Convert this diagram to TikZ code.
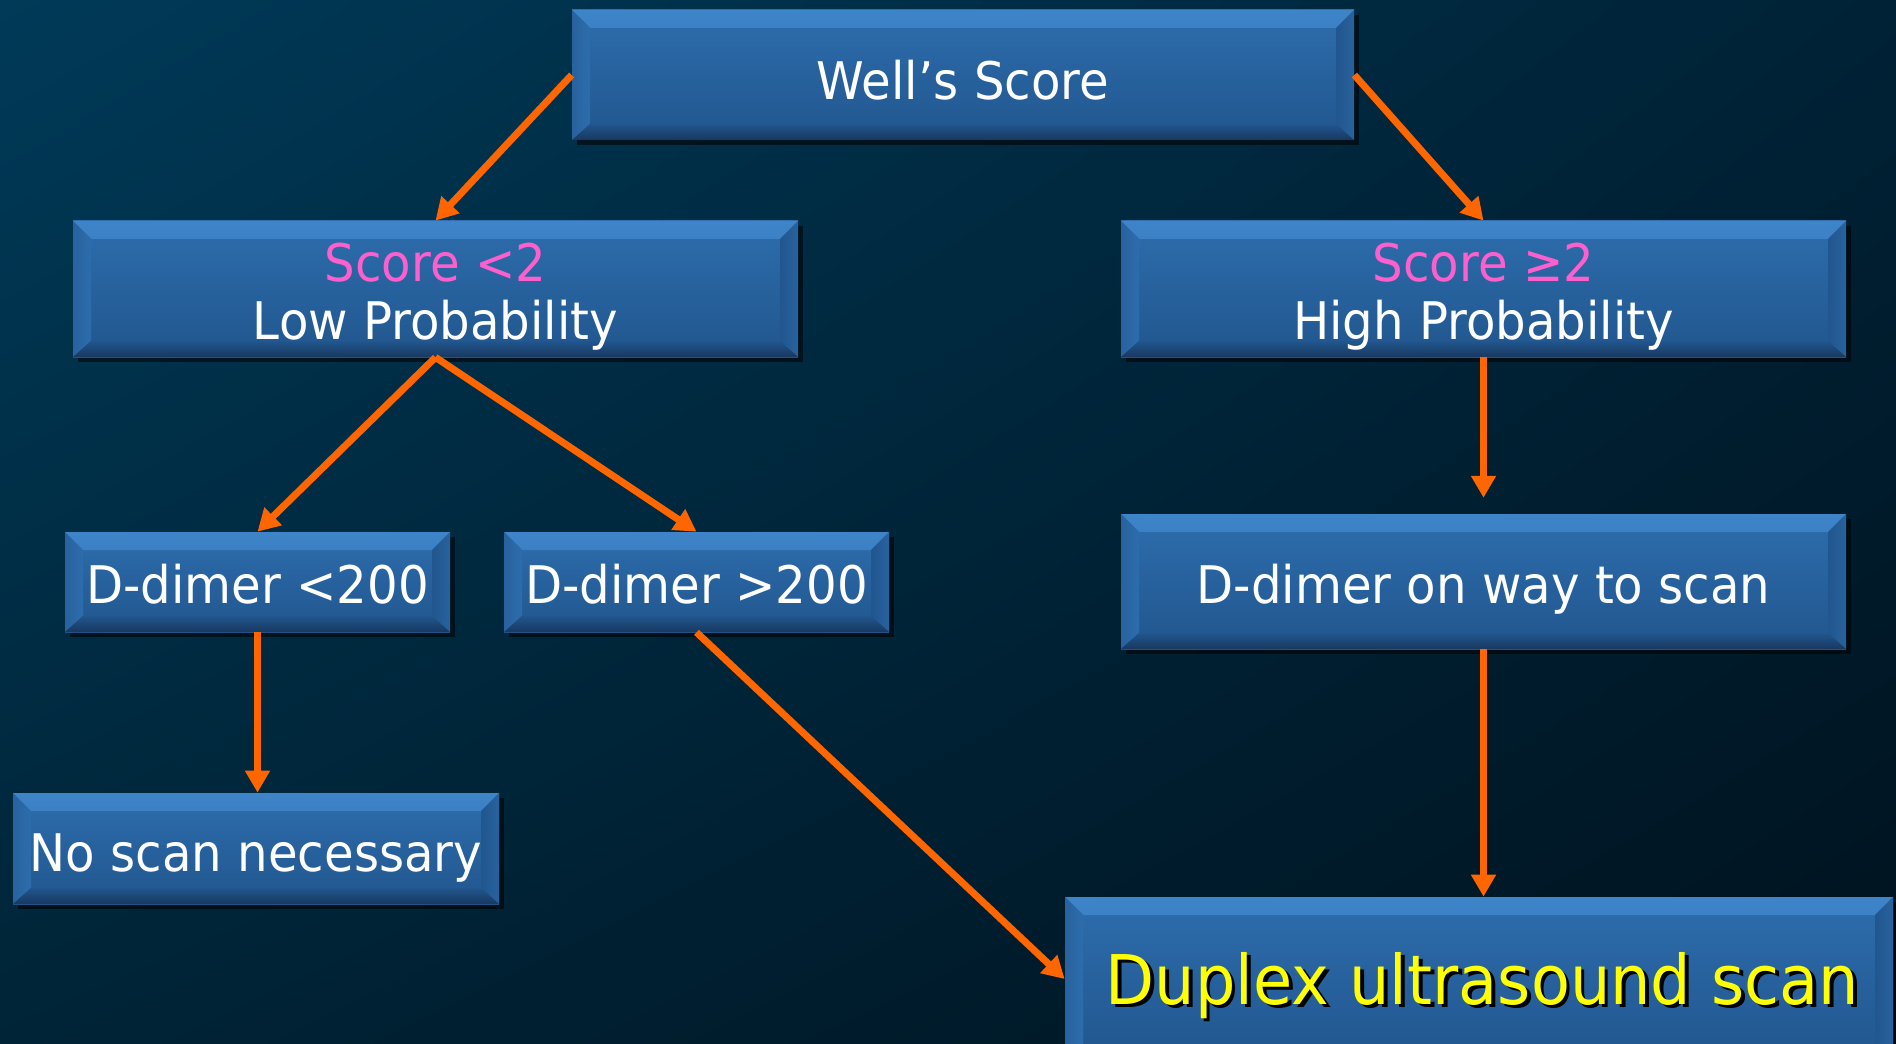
\documentclass[tikz,border=0pt]{standalone}
\usepackage{fontspec}
\setmainfont{DejaVu Sans}[FakeStretch=0.93]
\usetikzlibrary{arrows.meta,shadows,shadings}

\newdimen\pxu
\pxu=0.02cm

\definecolor{bgUL}{RGB}{0,58,88}
\definecolor{bgUR}{RGB}{0,34,54}
\definecolor{bgLL}{RGB}{0,36,55}
\definecolor{bgLR}{RGB}{0,18,30}
\definecolor{faceTop}{RGB}{45,109,173}
\definecolor{faceBot}{RGB}{33,86,142}
\definecolor{bevHi}{RGB}{108,178,248}
\definecolor{bevTop}{RGB}{62,132,200}
\definecolor{bevSide}{RGB}{40,98,158}
\definecolor{bevBot}{RGB}{24,56,96}
\definecolor{arrowOrange}{RGB}{255,102,0}
\definecolor{scorePink}{RGB}{255,95,205}
\definecolor{dupYellow}{RGB}{255,255,0}

\tikzset{
  bevelbox/.style={
    rectangle, inner sep=0pt,
    top color=faceTop, bottom color=faceBot,
    drop shadow={shadow xshift=3pt, shadow yshift=-3pt, opacity=0.55, fill=black},
    path picture={
      % top bevel
      \shade[top color=bevTop, middle color=bevHi, bottom color=faceTop]
        (path picture bounding box.north west) -- (path picture bounding box.north east)
        -- ([xshift=-18\pxu,yshift=-18\pxu]path picture bounding box.north east)
        -- ([xshift=18\pxu,yshift=-18\pxu]path picture bounding box.north west) -- cycle;
      % left bevel
      \shade[left color=bevSide, right color=faceTop]
        (path picture bounding box.north west)
        -- ([xshift=18\pxu,yshift=-18\pxu]path picture bounding box.north west)
        -- ([xshift=18\pxu,yshift=16\pxu]path picture bounding box.south west)
        -- (path picture bounding box.south west) -- cycle;
      % right bevel
      \shade[right color=bevSide, left color=faceBot]
        (path picture bounding box.north east)
        -- ([xshift=-18\pxu,yshift=-18\pxu]path picture bounding box.north east)
        -- ([xshift=-18\pxu,yshift=16\pxu]path picture bounding box.south east)
        -- (path picture bounding box.south east) -- cycle;
      % bottom bevel
      \shade[top color=faceBot, bottom color=bevBot]
        (path picture bounding box.south west) -- (path picture bounding box.south east)
        -- ([xshift=-18\pxu,yshift=16\pxu]path picture bounding box.south east)
        -- ([xshift=18\pxu,yshift=16\pxu]path picture bounding box.south west) -- cycle;
    }
  },
  boxtext/.style={
    inner sep=0pt, align=center, text=white,
    font=\fontsize{29.5}{33}\selectfont
  },
  flowarrow/.style={
    draw=arrowOrange, line width=4pt,
    -{Triangle[length=12.5pt,width=13.5pt]}
  }
}

\newcommand\pinktext[1]{\textcolor{scorePink}{#1}}
\newcommand\shadowed[1]{{\color{black}\rlap{\kern2pt\raisebox{-2pt}{#1}}}#1}

\begin{document}
\begin{tikzpicture}[x=0.02cm, y=-0.02cm]
  % backdrop
  \useasboundingbox (0,0) rectangle (1896,1044);
  \shade[upper left=bgUL, upper right=bgUR, lower left=bgLL, lower right=bgLR]
    (0,0) rectangle (1896,1044);

  % boxes
  \node[bevelbox, minimum width=782\pxu, minimum height=130\pxu] (wells) at (963,75) {};
  \node[bevelbox, minimum width=725\pxu, minimum height=136\pxu] (low) at (435.5,289) {};
  \node[bevelbox, minimum width=725\pxu, minimum height=136\pxu] (high) at (1483.5,289) {};
  \node[bevelbox, minimum width=385\pxu, minimum height=100\pxu] (dlow) at (257.5,582) {};
  \node[bevelbox, minimum width=385\pxu, minimum height=100\pxu] (dhigh) at (696.5,582) {};
  \node[bevelbox, minimum width=725\pxu, minimum height=135\pxu] (dway) at (1483.5,581.5) {};
  \node[bevelbox, minimum width=486\pxu, minimum height=111\pxu] (noscan) at (256,848.5) {};
  \node[bevelbox, minimum width=828\pxu, minimum height=164\pxu] (duplex) at (1479,979) {};

  % box labels
  \node[boxtext] (wellsT) at ([yshift=-3pt]wells.center) {Well’s Score};
  \node[boxtext] (lowT) at ([yshift=-4.5pt]low.center) {\pinktext{Score <2}\\Low Probability};
  \node[boxtext] (highT) at ([yshift=-4.5pt]high.center) {\pinktext{Score ≥2}\\High Probability};
  \node[boxtext] (dlowT) at ([yshift=-1.2pt]dlow.center) {D-dimer <200};
  \node[boxtext] (dhighT) at ([yshift=-1.2pt]dhigh.center) {D-dimer >200};
  \node[boxtext] (dwayT) at ([yshift=-4.5pt]dway.center) {D-dimer on way to scan};
  \node[boxtext] (noscanT) at ([yshift=-5.5pt]noscan.center) {No scan necessary};
  \node[boxtext, text=dupYellow, font=\fontsize{39}{43}\selectfont] (duplexT)
    at ([xshift=2pt,yshift=-4.5pt]duplex.center) {\shadowed{Duplex ultrasound scan}};

  % connectors
  \draw[flowarrow] (wells.west) -- (low.north);
  \draw[flowarrow] (wells.east) -- (high.north);
  \draw[flowarrow] (low.south) -- (dlow.north);
  \draw[flowarrow] (low.south) -- (dhigh.north);
  \draw[flowarrow, shorten >=9pt] (high.south) -- (dway.north);
  \draw[flowarrow] (dlow.south) -- (dlow.south |- noscan.north);
  \draw[flowarrow] (dhigh.south) -- (duplex.west);
  \draw[flowarrow] (dway.south) -- (dway.south |- duplex.north);
\end{tikzpicture}
\end{document}
